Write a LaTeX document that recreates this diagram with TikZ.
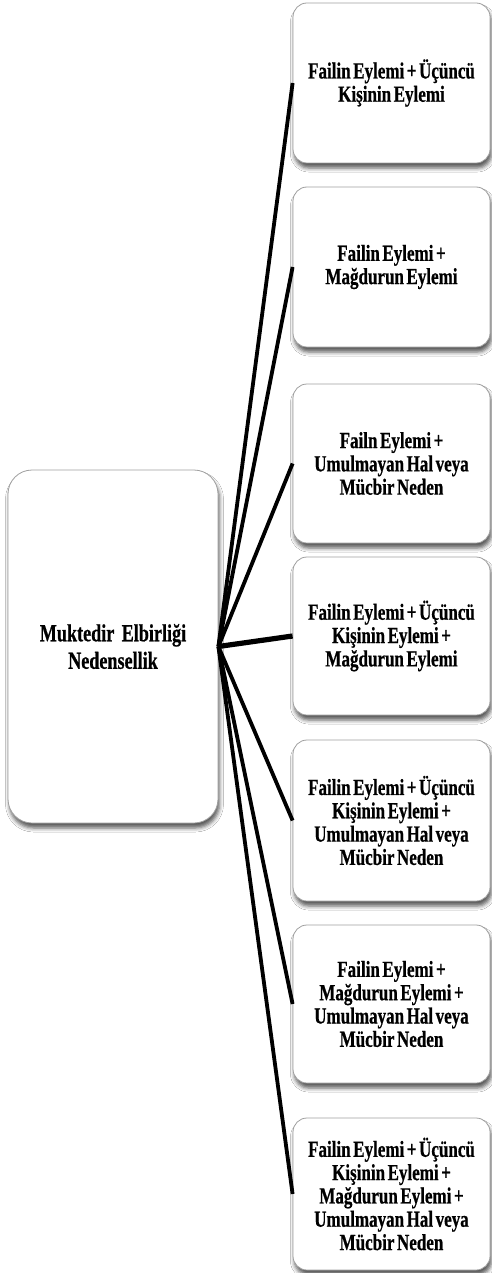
\documentclass[tikz,border=0pt]{standalone}
\usepackage{fontspec}
\usetikzlibrary{shadows.blur}
\newfontfamily\boxfont{Liberation Serif}[FakeStretch=0.74, WordSpace=0.6, FakeBold=0.6]
\begin{document}
\begin{tikzpicture}[x=1pt,y=-1pt,
  card/.style={draw=gray!75, line width=0.8pt, fill=white, rounded corners=14pt,
    align=center, inner sep=0pt,
    blur shadow={shadow xshift=1.5pt, shadow yshift=-5pt, shadow blur radius=4pt, shadow opacity=65},
    font=\boxfont\bfseries\fontsize{23}{23.3}\selectfont},
  hubcard/.style={card, rounded corners=24pt,
    font=\boxfont\bfseries\fontsize{24.5}{27.5}\selectfont},
  link/.style={line width=3.8pt, black}]
\useasboundingbox (0,0) rectangle (492,1273);
\fill[white] (0,0) rectangle (492,1273);

% central node
\node[hubcard, minimum width=210pt, minimum height=353pt] (hub) at (113,646.5)
  {Muktedir\hspace{0.3em}Elbirliği\\Nedensellik};

% right-hand column of outcomes
\node[card, minimum width=197pt, minimum height=160pt] (b1) at (391.5,83)
  {Failin Eylemi + Üçüncü\\Kişinin Eylemi};
\node[card, minimum width=197pt, minimum height=160pt] (b2) at (391.5,267)
  {Failin Eylemi +\\Mağdurun Eylemi};
\node[card, minimum width=197pt, minimum height=159pt] (b3) at (391.5,463.5)
  {Failn Eylemi +\\Umulmayan Hal veya\\Mücbir Neden};
\node[card, minimum width=197pt, minimum height=158pt] (b4) at (391.5,636)
  {Failin Eylemi + Üçüncü\\Kişinin Eylemi +\\Mağdurun Eylemi};
\node[card, minimum width=197pt, minimum height=161pt] (b5) at (391.5,820.5)
  {Failin Eylemi + Üçüncü\\Kişinin Eylemi +\\Umulmayan Hal veya\\Mücbir Neden};
\node[card, minimum width=197pt, minimum height=158pt] (b6) at (391.5,1004)
  {Failin Eylemi +\\Mağdurun Eylemi +\\Umulmayan Hal veya\\Mücbir Neden};
\node[card, minimum width=197pt, minimum height=152pt] (b7) at (391.5,1194)
  {Failin Eylemi + Üçüncü\\Kişinin Eylemi +\\Mağdurun Eylemi +\\Umulmayan Hal veya\\Mücbir Neden};

% connectors fanning out from the hub
\draw[link] (hub.east) -- (b1.west);
\draw[link] (hub.east) -- (b2.west);
\draw[link] (hub.east) -- (b3.west);
\draw[link, line width=5.2pt] (hub.east) -- (b4.west);
\draw[link] (hub.east) -- (b5.west);
\draw[link] (hub.east) -- (b6.west);
\draw[link] (hub.east) -- (b7.west);
\end{tikzpicture}
\end{document}
